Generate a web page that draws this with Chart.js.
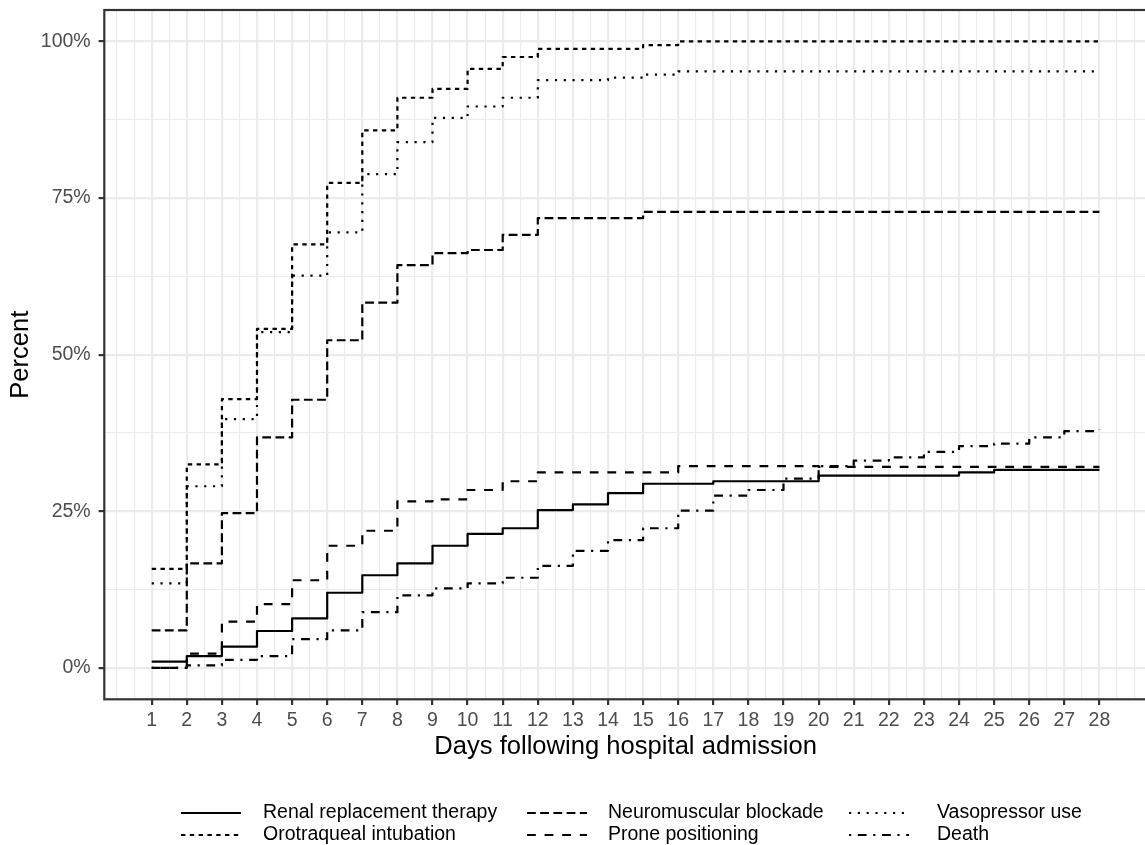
<!DOCTYPE html>
<html>
<head>
<meta charset="utf-8">
<script src="https://cdn.jsdelivr.net/npm/chart.js@4.4.1/dist/chart.umd.min.js"></script>
<style>
  html, body { margin: 0; padding: 0; background: #fff; overflow: hidden; }
  #wrap { position: relative; width: 1150px; height: 845px; }
</style>
</head>
<body>
<div id="wrap"><canvas id="chart" width="1150" height="845"></canvas></div>
<script>
// Days 1..28 and cumulative percentages per outcome
const days = [1, 2, 3, 4, 5, 6, 7, 8, 9, 10, 11, 12, 13, 14, 15, 16, 17, 18, 19, 20, 21, 22, 23, 24, 25, 26, 27, 28];

const renalReplacement = [1.0, 1.9, 3.4, 5.9, 7.9, 12.0, 14.8, 16.7, 19.5, 21.4, 22.3, 25.2, 26.1, 27.9, 29.4, 29.4, 29.8, 29.8, 29.8, 30.7, 30.7, 30.7, 30.7, 31.2, 31.6, 31.6, 31.6, 31.6];
const orotraquealIntubation = [15.8, 32.5, 42.9, 54.1, 67.6, 77.4, 85.8, 91.0, 92.4, 95.6, 97.5, 98.8, 98.8, 98.8, 99.4, 100, 100, 100, 100, 100, 100, 100, 100, 100, 100, 100, 100, 100];
const neuromuscularBlockade = [6.0, 16.7, 24.7, 36.8, 42.8, 52.3, 58.3, 64.3, 66.2, 66.7, 69.1, 71.8, 71.8, 71.8, 72.8, 72.8, 72.8, 72.8, 72.8, 72.8, 72.8, 72.8, 72.8, 72.8, 72.8, 72.8, 72.8, 72.8];
const pronePositioning = [0.0, 2.3, 7.4, 10.2, 14.0, 19.5, 21.9, 26.6, 26.9, 28.4, 29.8, 31.2, 31.2, 31.2, 31.2, 32.2, 32.2, 32.2, 32.2, 32.1, 32.1, 32.1, 32.1, 32.1, 32.1, 32.1, 32.1, 32.1];
const vasopressorUse = [13.5, 29.0, 39.7, 53.6, 62.6, 69.5, 78.8, 83.9, 87.8, 89.6, 91.0, 93.8, 93.8, 94.2, 94.7, 95.2, 95.2, 95.2, 95.2, 95.2, 95.2, 95.2, 95.2, 95.2, 95.2, 95.2, 95.2, 95.2];
const death = [0.0, 0.4, 1.3, 1.9, 4.6, 6.0, 8.9, 11.6, 12.7, 13.5, 14.4, 16.3, 18.7, 20.4, 22.3, 25.1, 27.5, 28.4, 30.2, 32.2, 33.1, 33.6, 34.5, 35.4, 35.8, 36.8, 37.8, 38.0];

const yTickLabels = ['0%', '25%', '50%', '75%', '100%'];

const LW = 2.2; // ggplot linewidth 0.5 at this resolution
const FONT = '"Liberation Sans", Arial, sans-serif';

function series(label, values, dash) {
    return {
        label: label,
        data: days.map((d, i) => ({ x: d, y: values[i] })),
        borderColor: '#000000',
        backgroundColor: '#000000',
        borderWidth: LW,
        borderDash: dash,
        borderCapStyle: 'butt',
        borderJoinStyle: 'round',
        stepped: 'before',
        pointRadius: 0,
        fill: false,
    };
}

const datasets = [
    series('Renal replacement therapy', renalReplacement, []),
    series('Orotraqueal intubation', orotraquealIntubation, [2 * LW, 2 * LW]),
    series('Neuromuscular blockade', neuromuscularBlockade, [4 * LW, 2 * LW]),
    series('Prone positioning', pronePositioning, [4 * LW, 4 * LW]),
    series('Vasopressor use', vasopressorUse, [1 * LW, 3 * LW]),
    series('Death', death, [1 * LW, 3 * LW, 4 * LW, 3 * LW]),
];

// ggplot-like panel border drawn over the data
const panelFrame = {
    id: 'panelFrame',
    afterDatasetsDraw(chart) {
        const { ctx, chartArea: a } = chart;
        ctx.save();
        ctx.strokeStyle = '#333333';
        ctx.lineWidth = LW;
        ctx.setLineDash([]);
        ctx.strokeRect(a.left, a.top, a.right - a.left, a.bottom - a.top);
        ctx.restore();
    }
};

// bottom legend, 2 rows x 3 columns, filled column by column
const ggLegend = {
    id: 'ggLegend',
    afterDraw(chart) {
        const ctx = chart.ctx;
        const rows = [813, 835];
        const keyX = [181, 527, 849];
        const keyW = 60;
        const textX = [263, 608, 937];
        ctx.save();
        ctx.font = '19.5px ' + FONT;
        ctx.textBaseline = 'middle';
        ctx.textAlign = 'left';
        chart.data.datasets.forEach((ds, i) => {
            const col = Math.floor(i / 2);
            const y = rows[i % 2];
            ctx.strokeStyle = '#000000';
            ctx.lineWidth = ds.borderWidth;
            ctx.lineCap = 'butt';
            ctx.setLineDash(ds.borderDash);
            ctx.beginPath();
            ctx.moveTo(keyX[col], y);
            ctx.lineTo(keyX[col] + keyW, y);
            ctx.stroke();
            ctx.setLineDash([]);
            ctx.fillStyle = '#000000';
            ctx.fillText(ds.label, textX[col], y);
        });
        ctx.restore();
    }
};

function gridWidth(ctx, isMajor) {
    return ctx.tick && isMajor(ctx.tick.value) ? LW : LW / 2;
}

const xMajor = v => Number.isInteger(v) && v >= days[0] && v <= days[days.length - 1];
const yMajor = v => v % 25 === 0;

new Chart(document.getElementById('chart'), {
    type: 'line',
    data: { datasets: datasets },
    plugins: [panelFrame, ggLegend],
    options: {
        responsive: false,
        animation: false,
        devicePixelRatio: 1,
        layout: { padding: { left: 0, top: 10, right: 3.2, bottom: 845 - 699.3 - 60 } },
        plugins: {
            legend: { display: false },
            tooltip: { enabled: false },
        },
        scales: {
            x: {
                type: 'linear',
                min: -0.35,
                max: 29.35,
                afterFit(scale) {
                    scale.height = 60;
                    scale.paddingLeft = 0;
                    scale.paddingRight = 0;
                },
                afterBuildTicks(scale) {
                    const t = [];
                    for (let v = 0; v <= 29; v += 0.5) t.push({ value: v });
                    scale.ticks = t;
                },
                border: { display: false },
                grid: {
                    color: '#EBEBEB',
                    lineWidth: ctx => gridWidth(ctx, xMajor),
                    tickLength: 5.7,
                    tickWidth: LW,
                    tickColor: ctx => ctx.tick && xMajor(ctx.tick.value) ? '#333333' : 'rgba(0,0,0,0)',
                },
                ticks: {
                    autoSkip: false,
                    maxRotation: 0,
                    minRotation: 0,
                    padding: 3.5,
                    color: '#4D4D4D',
                    font: { family: FONT, size: 19.5, lineHeight: 1.2 },
                    callback: v => xMajor(v) ? String(v) : '',
                },
                title: {
                    display: true,
                    text: 'Days following hospital admission',
                    color: '#000000',
                    font: { family: FONT, size: 25.6, lineHeight: 1 },
                    padding: { top: 0, bottom: 0 },
                },
            },
            y: {
                type: 'linear',
                min: -5,
                max: 105,
                afterFit(scale) {
                    scale.width = 104.3;
                    scale.paddingTop = 0;
                    scale.paddingBottom = 0;
                },
                afterBuildTicks(scale) {
                    const t = [];
                    for (let v = 0; v <= 100; v += 12.5) t.push({ value: v });
                    scale.ticks = t;
                },
                border: { display: false },
                grid: {
                    color: '#EBEBEB',
                    lineWidth: ctx => gridWidth(ctx, yMajor),
                    tickLength: 5.7,
                    tickWidth: LW,
                    tickColor: ctx => ctx.tick && yMajor(ctx.tick.value) ? '#333333' : 'rgba(0,0,0,0)',
                },
                ticks: {
                    autoSkip: false,
                    padding: 7.9,
                    color: '#4D4D4D',
                    font: { family: FONT, size: 19.5 },
                    callback: v => yMajor(v) ? yTickLabels[v / 25] : '',
                },
                title: {
                    display: true,
                    text: 'Percent',
                    color: '#000000',
                    font: { family: FONT, size: 25.6, lineHeight: 1 },
                    padding: { top: 8.2, bottom: 0 },
                },
            },
        },
    },
});
</script>
</body>
</html>
